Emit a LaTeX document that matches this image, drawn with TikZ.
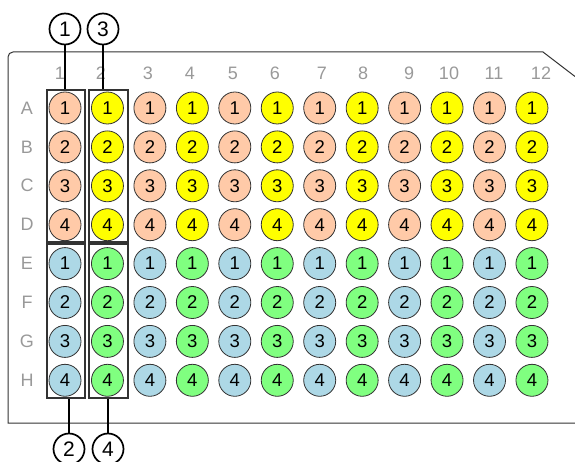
\documentclass[tikz,border=0pt]{standalone}
\usepackage{fontspec}
\setmainfont{Liberation Sans}
\definecolor{peach}{HTML}{FFCAA8}
\definecolor{yel}{HTML}{FFFF00}
\definecolor{lblue}{HTML}{ADD8E6}
\definecolor{lgreen}{HTML}{80FF80}
\definecolor{lbl}{HTML}{999999}
\definecolor{rim}{HTML}{333333}
\begin{document}
\begin{tikzpicture}[x=1pt,y=-1pt,
  well/.style={circle,draw=rim,line width=0.8pt,minimum size=32pt,inner sep=0pt,
    font=\fontsize{18.5}{18.5}\selectfont},
  axislbl/.style={text=lbl,font=\fontsize{18}{18}\selectfont,inner sep=0pt},
  callout/.style={circle,draw=black,line width=1.7pt,minimum size=31pt,inner sep=0pt,
    font=\fontsize{21}{21}\selectfont},
  groupbox/.style={draw=rim,line width=1.2pt,inner sep=0pt},
  lead/.style={line width=1.7pt}]
\useasboundingbox (0,0) rectangle (575,462);
% plate outline
\draw[line width=1pt,rim] (575,423) -- (8,423) [rounded corners=5pt] -- (8,52) [sharp corners] -- (543,52) -- (575,76.5);
% column labels
\foreach \c/\x in {1/60,2/101,3/148,4/190,5/233,6/275,7/322,8/363,9/409,10/449,11/494,12/541}
  \node[axislbl] (col\c) at (\x,73) {\c};
% row labels
\foreach \r/\i in {A/0,B/1,C/2,D/3,E/4,F/5,G/6,H/7}
  \node[axislbl] (row\r) at (27,108+38.9*\i) {\r};
% wells
\foreach \r/\i/\n in {A/0/1,B/1/2,C/2/3,D/3/4,E/4/1,F/5/2,G/6/3,H/7/4}{
  \foreach \c in {1,...,12}{
    \pgfmathtruncatemacro{\odd}{mod(\c,2)}
    \ifnum\i<4
      \ifnum\odd=1 \def\fc{peach}\else\def\fc{yel}\fi
    \else
      \ifnum\odd=1 \def\fc{lblue}\else\def\fc{lgreen}\fi
    \fi
    \node[well,fill=\fc] (w\r\c) at (65+42.45*\c-42.45,108+38.9*\i) {\n};
  }
}
% group boxes
\node[groupbox,minimum width=38pt,minimum height=152pt] (boxT1) at (66,166) {};
\node[groupbox,minimum width=38pt,minimum height=154pt] (boxB1) at (66,321) {};
\node[groupbox,minimum width=39pt,minimum height=152pt] (boxT2) at (108.5,166) {};
\node[groupbox,minimum width=39pt,minimum height=154pt] (boxB2) at (108.5,321) {};
% callouts
\node[callout] (c1) at (65,29) {1};
\node[callout] (c3) at (103,29) {3};
\node[callout] (c2) at (69,449) {2};
\node[callout] (c4) at (108,449) {4};
\draw[lead] (c1.south) -- (c1.south |- boxT1.north);
\draw[lead] (c3.south) -- (c3.south |- boxT2.north);
\draw[lead] (c2.north) -- (c2.north |- boxB1.south);
\draw[lead] (c4.north) -- (c4.north |- boxB2.south);
\end{tikzpicture}
\end{document}
